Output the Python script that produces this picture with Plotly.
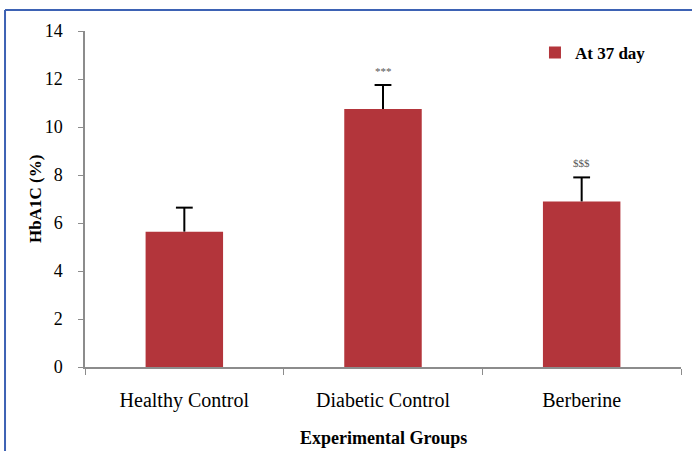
import plotly.graph_objects as go

# HbA1C at day 37 by experimental group
groups = ["Healthy Control", "Diabetic Control", "Berberine"]
hba1c = [5.64, 10.75, 6.9]
sem = [1.0, 1.0, 1.0]
marks = ["", "***", "$$$"]
y_ticks = [0, 2, 4, 6, 8, 10, 12, 14]

BAR = "#b3353b"
SERIF = '"Liberation Serif", "Times New Roman", Times, serif'

fig = go.Figure()
fig.add_trace(go.Bar(
    x=groups, y=hba1c, name="<b>At 37 day</b>",
    marker=dict(color=BAR, line=dict(width=0)),
    error_y=dict(type="data", array=sem, arrayminus=[0] * len(sem), symmetric=False,
                 color="black", thickness=2, width=0),
))

# caps on the upper whiskers only
fig.add_trace(go.Scatter(
    x=groups, y=[v + e for v, e in zip(hba1c, sem)], mode="markers",
    marker=dict(symbol="line-ew", size=12, line=dict(color="black", width=2)),
    showlegend=False, hoverinfo="skip",
))

# significance marks above the error bars
for g, v, e, m in zip(groups, hba1c, sem, marks):
    if m:
        fig.add_annotation(x=g, y=v + e, text=m, showarrow=False, yshift=14,
                           font=dict(family=SERIF, size=11, color="#555555"))

# axis titles
fig.add_annotation(xref="paper", yref="paper", x=-0.084, y=0.5, text="<b>HbA1C (%)</b>",
                   textangle=-90, showarrow=False, xanchor="center", yanchor="middle",
                   font=dict(family=SERIF, size=17, color="black"))
fig.add_annotation(xref="paper", yref="paper", x=0.5, y=-0.212, text="<b>Experimental Groups</b>",
                   showarrow=False, xanchor="center", yanchor="middle",
                   font=dict(family=SERIF, size=18, color="black"))

# blue frame along top and left edges
frame = dict(type="line", xref="paper", yref="paper", line=dict(color="#3d62b4", width=2))
fig.add_shape(x0=-0.1342, x1=-0.1342, y0=-0.26, y1=1.0625, **frame)
fig.add_shape(x0=-0.1342, x1=1.03, y0=1.0625, y1=1.0625, **frame)

fig.update_layout(
    width=692, height=451,
    margin=dict(l=85, r=11, t=31, b=84),
    paper_bgcolor="white", plot_bgcolor="white",
    bargap=0.61,
    showlegend=True,
    legend=dict(x=0.755, y=0.935, xanchor="left", yanchor="middle",
                font=dict(family=SERIF, size=17, color="black"),
                bgcolor="rgba(0,0,0,0)", itemwidth=30),
    font=dict(family=SERIF, color="black"),
)
fig.update_xaxes(
    showline=True, linecolor="#8c8c8c", linewidth=1.5,
    ticks="outside", tickson="boundaries", ticklen=6, tickcolor="#8c8c8c",
    tickfont=dict(family=SERIF, size=20, color="black"), ticklabelstandoff=14,
    showgrid=False, zeroline=False,
)
fig.update_yaxes(
    range=[0, 14], tickvals=y_ticks, showline=True, linecolor="#8c8c8c", linewidth=1.5,
    ticks="outside", ticklen=5, tickcolor="#8c8c8c",
    tickfont=dict(family=SERIF, size=18, color="black"), ticklabelstandoff=12,
    showgrid=False, zeroline=False,
)

fig.write_html("out.html")
